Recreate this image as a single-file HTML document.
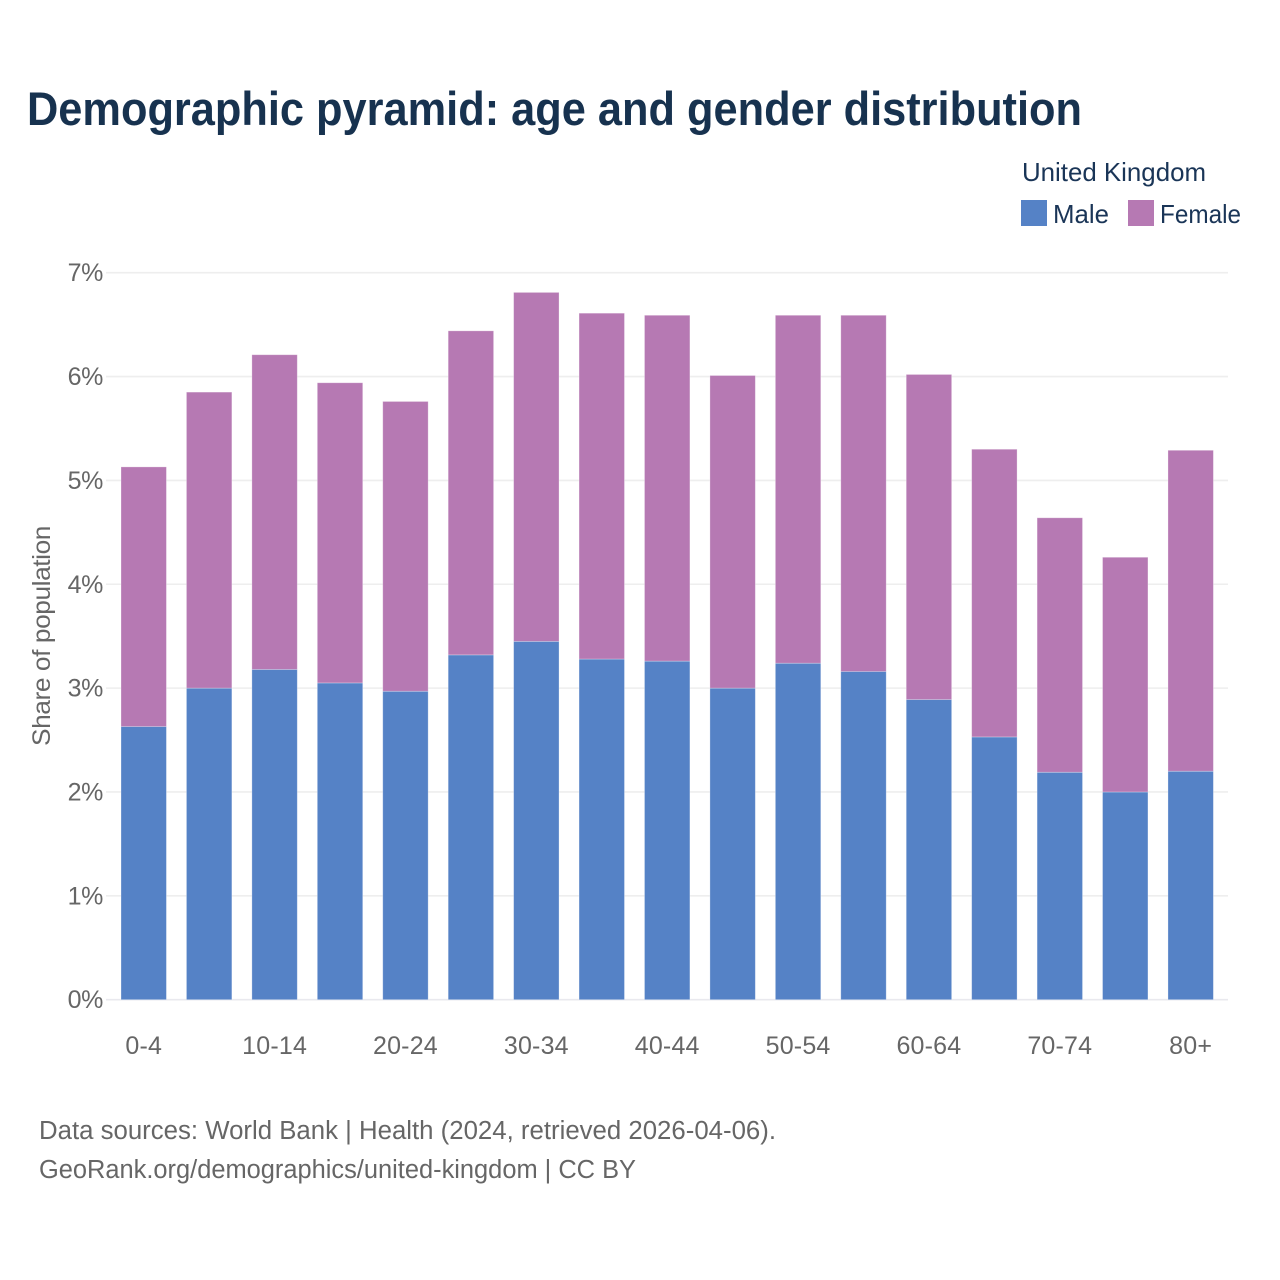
<!DOCTYPE html>
<html lang="en">
<head>
<meta charset="utf-8">
<title>Demographic pyramid: age and gender distribution</title>
<style>
html,body{margin:0;padding:0;background:#fff;}
body{width:1280px;height:1280px;overflow:hidden;}
svg{display:block;}
text{font-family:"Liberation Sans",sans-serif;}
.tick{font-size:25px;fill:#666;letter-spacing:-.4px;}
.xtick{letter-spacing:.2px;}
.legend{font-size:26px;fill:#1a3557;}
.foot{font-size:25.5px;fill:#666;}
</style>
</head>
<body>
<svg id="chart" width="1280" height="1280" viewBox="0 0 1280 1280" xmlns="http://www.w3.org/2000/svg">
  <rect width="1280" height="1280" fill="#ffffff"/>
  <text x="27" y="125" font-size="47" font-weight="700" fill="#17324f" textLength="1055" lengthAdjust="spacingAndGlyphs">Demographic pyramid: age and gender distribution</text>
  <text class="legend" x="1022" y="181" textLength="184" lengthAdjust="spacingAndGlyphs">United Kingdom</text>
  <rect x="1021" y="200" width="26" height="26" fill="#5582c6"/>
  <text class="legend" x="1053" y="223" textLength="56" lengthAdjust="spacingAndGlyphs">Male</text>
  <rect x="1128" y="200" width="26" height="26" fill="#b679b3"/>
  <text class="legend" x="1160" y="223" textLength="81" lengthAdjust="spacingAndGlyphs">Female</text>
  <g id="grid"></g>
  <g id="bars"></g>
  <g id="yaxis"></g>
  <g id="xaxis"></g>
  <text class="tick" transform="translate(50,636) rotate(-90)" text-anchor="middle" textLength="220" lengthAdjust="spacingAndGlyphs">Share of population</text>
  <text class="foot" x="39" y="1139" textLength="737" lengthAdjust="spacingAndGlyphs">Data sources: World Bank | Health (2024, retrieved 2026-04-06).</text>
  <text class="foot" x="39" y="1178" textLength="597" lengthAdjust="spacingAndGlyphs">GeoRank.org/demographics/united-kingdom | CC BY</text>
</svg>
<script>
const categories = ["0-4","5-9","10-14","15-19","20-24","25-29","30-34","35-39","40-44","45-49","50-54","55-59","60-64","65-69","70-74","75-79","80+"];
const xTickLabels = ["0-4","10-14","20-24","30-34","40-44","50-54","60-64","70-74","80+"];
const maleValues = [2.63,3.00,3.18,3.05,2.97,3.32,3.45,3.28,3.26,3.00,3.24,3.16,2.89,2.53,2.19,2.00,2.20];
const femaleValues = [2.50,2.85,3.03,2.89,2.79,3.12,3.36,3.33,3.33,3.01,3.35,3.43,3.13,2.77,2.45,2.26,3.09];
const yTickValues = [0,1,2,3,4,5,6,7];

const NS = "http://www.w3.org/2000/svg";
const plotLeft = 111, plotRight = 1223.4, gridLeft = 106, gridRight = 1228;
const yZero = 999.7, yPerUnit = 103.86;
const bandWidth = (plotRight - plotLeft) / categories.length;
const barWidth = bandWidth * 0.694;

function yScale(v) { return yZero - v * yPerUnit; }
function xCenter(name) { return plotLeft + bandWidth * (categories.indexOf(name) + 0.5); }
function make(tag, attrs) {
  const el = document.createElementNS(NS, tag);
  for (const k in attrs) el.setAttribute(k, attrs[k]);
  return el;
}

const grid = document.getElementById("grid");
const yaxis = document.getElementById("yaxis");
yTickValues.forEach(function (v) {
  const line = make("line", {x1: gridLeft, x2: gridRight, y1: yScale(v), y2: yScale(v), stroke: v === 0 ? "#e9e9ee" : "#eeeeee", "stroke-width": 1.6});
  
  
  grid.appendChild(line);
  const label = make("text", {x: 103, y: yScale(v) + 8.5, "text-anchor": "end", "class": "tick"});
  
  
  label.textContent = v + "%";
  yaxis.appendChild(label);
});

const bars = document.getElementById("bars");
categories.forEach(function (name, i) {
  const x = xCenter(name) - barWidth / 2;
  const m = maleValues[i], f = femaleValues[i];
  const male = make("rect", {x: x, y: yScale(m), width: barWidth, height: yScale(0) - yScale(m), fill: "#5582c6", stroke: "#ffffff", "stroke-opacity": 0.35, "stroke-width": 0.8});
  
  
  bars.appendChild(male);
  const female = make("rect", {x: x, y: yScale(m + f), width: barWidth, height: yScale(m) - yScale(m + f), fill: "#b679b3", stroke: "#ffffff", "stroke-opacity": 0.35, "stroke-width": 0.8});
  
  
  bars.appendChild(female);
});

const xaxis = document.getElementById("xaxis");
xTickLabels.forEach(function (name) {
  const label = make("text", {x: xCenter(name), y: 1054, "text-anchor": "middle", "class": "tick xtick"});
  
  
  label.textContent = name;
  xaxis.appendChild(label);
});
</script>
</body>
</html>
